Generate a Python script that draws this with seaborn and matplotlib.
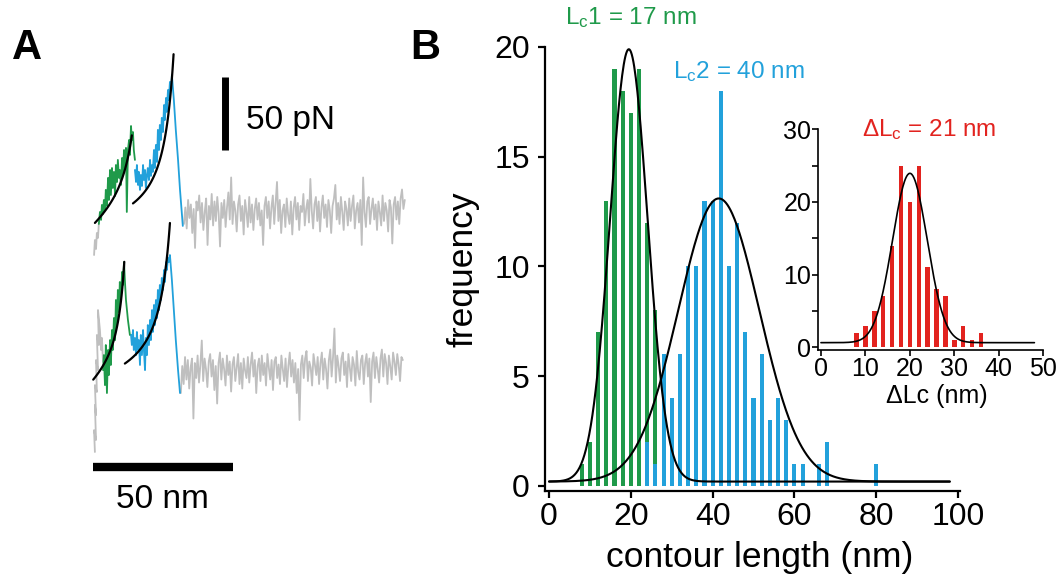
import numpy as np
import matplotlib
matplotlib.use("Agg")
import matplotlib.pyplot as plt
import seaborn as sns

#======================================================================
# --- 1. DADOS ---
#======================================================================
VERDE = "#1f9a4a"
AZUL = "#22a1db"
VERMELHO = "#e2231f"
CINZA = "#bfbfbf"

# --- Painel B: histograma principal (centros dos bins de 2 nm) ---
centros_lc1 = [8, 10, 12, 14, 16, 18, 20, 22, 24, 26]
contagem_lc1 = [1, 2, 7, 13, 19, 18, 17, 19, 12, 8]
centros_lc2 = list(range(24, 82, 2))
contagem_lc2 = [2, 1, 6, 4, 6, 10, 10, 13, 13, 18, 10, 12, 7, 4, 6,
                3, 4, 3, 1, 1, 0, 1, 2, 0, 0, 0, 0, 0, 1]

# --- Ajustes gaussianos (centro, sigma, amplitude, linha de base) ---
fit_lc1 = (19.5, 4.6, 19.7, 0.2)
fit_lc2 = (41.5, 9.9, 12.9, 0.2)
fit_dlc = (20.0, 3.9, 23.3, 0.64)

# --- Inset: delta Lc ---
centros_dlc = list(range(8, 38, 2))
contagem_dlc = [2, 3, 5, 7, 14, 25, 20, 25, 11, 8, 7, 1, 3, 1, 2]

# --- Painel A: curvas forca-extensao (nm, pN) ---
t1_pre_x = [0.4, 0.7, 1.1, 1.4, 1.8, 2.1]
t1_pre_f = [-26.7, -16.7, -22.7, -12.0, -15.3, -6.0]
t1_verde_x = [2.1, 2.5, 2.9, 3.2, 3.6, 3.9, 4.3, 4.6, 5.0, 5.4, 5.7, 6.1, 6.4,
              6.8, 7.1, 7.5, 7.9, 8.2, 8.6, 8.9, 9.3, 9.6, 10.0, 10.4, 10.7,
              11.1, 11.4, 11.8, 12.1, 12.5, 12.9, 13.2, 13.6, 13.9, 14.3,
              14.6, 15.0]
t1_verde_f = [-6, 2, -3.3, 6.7, 0.7, 10, 3.3, 16.7, 6, 24.7, 10, 30, 13.3,
              31.3, 18, 28.7, 12.7, 33.3, 22, 36.7, 24.7, 30, 20, 38, 26.7,
              43.3, 31.3, 44.7, 2, 43.3, 50, 40, 59.3, 50, 55.3, 43.3, 36.7]
t1_azul_x = [15.0, 15.4, 15.7, 16.1, 16.4, 16.8, 17.1, 17.5, 17.9, 18.2,
             18.6, 18.9, 19.3, 19.6, 20.0, 20.4, 20.7, 21.1, 21.4, 21.8,
             22.1, 22.5, 22.9, 23.2, 23.6, 23.9, 24.3, 24.6, 25.0, 25.4,
             25.7, 26.1, 26.4, 26.8, 27.1, 27.5, 27.9, 28.2, 28.9, 29.6,
             30.4, 31.1, 31.8, 32.1]
t1_azul_f = [30, 22, 33.3, 20, 28.7, 16.7, 26.7, 19.3, 33.3, 23.3, 30, 18,
             26.7, 31.3, 23.3, 36.7, 26, 33.3, 28.7, 43.3, 31.3, 46.7, 35.3,
             56.7, 43.3, 60, 50, 64.7, 55.3, 73.3, 63.3, 78, 68.7, 83.3, 76.7,
             88.7, 83.3, 93.3, 76.7, 56.7, 36.7, 16.7, 0, -7.3]
t1_cinza_f = [-6, 5, -9, 10, -2, 7, -12, 4, -22, 9, 3, 13, -5, 8, -10, 2, 11, -20, 6, -3,
              14, -7, 9, -4, 12, 1, -21, 8, -2, 10, -8, 5, 15, -3, 25, -6, 9, 3, -11, 7,
              13, -4, 6, -13, 10, 2, -8, 12, -5, 7, -10, 4, 11, -3, 8, -7, 3, -20, 6, 12,
              -2, 9, -9, 5, 13, -6, 8, 22, -4, 10, -12, 3, 7, -8, 11, 0, -6, 9, -13, 5,
              12, -3, 8, -10, 6, 2, 14, -7, 4, 10, -5, 24, 3, -9, 7, 12, -4, 9, -11, 5,
              13, -2, 7, -8, 10, 3, -12, 6, 11, 20, -3, 8, -6, 12, 2, -10, 9, 4, -7, 11,
              -4, 6, 13, -9, 3, 8, -5, 10, -20, 25, 2, -8, 9, 12, -6, 4, 11, -3, 7, -10,
              9, 2, -7, 13, -4, 8, 3, -11, 10, 5, -19, 7, 12, -3, 9, -6, 11, 17, 4, 10]

t2_pre_x = [0.7, 0.4, 1.1, 0.7, 1.1, 0.7, 1.4, 1.1, 1.8, 1.4, 2.1, 1.8, 2.5,
            2.9, 3.2, 3.6]
t2_pre_f = [-53.3, -38.7, -45.3, -22, -28.7, -8.7, -13.3, 8, 1.3, 24.7, 18,
            41.3, 28, 14.7, 22.7, 6.7]
t2_verde_x = [3.6, 3.9, 4.3, 4.6, 5.0, 5.4, 5.7, 6.1, 6.4, 6.8, 7.1, 7.5,
              7.9, 8.2, 8.6, 8.9, 9.3, 9.6, 10.0, 10.4, 10.7, 11.1, 11.4,
              11.8, 12.5, 13.2, 13.6]
t2_verde_f = [1.3, 11.3, -8.7, 18, -14, 14.7, -2, 21.3, 4.7, 28, 14.7, 36,
              21.3, 48, 31.3, 54.7, 40, 60, 48, 66.7, 58, 73.3, 61.3, 48,
              34.7, 24.7, 24.7]
t2_azul_x = [13.6, 13.9, 14.3, 14.6, 15.0, 15.4, 15.7, 16.1, 16.4, 16.8,
             17.1, 17.5, 17.9, 18.2, 18.6, 18.9, 19.3, 19.6, 20.0, 20.4,
             20.7, 21.1, 21.4, 21.8, 22.1, 22.5, 22.9, 23.2, 23.6, 23.9,
             24.3, 24.6, 25.0, 25.4, 25.7, 26.1, 26.4, 26.8, 27.1, 27.5,
             28.2, 28.9, 29.6, 30.4, 31.1]
t2_azul_f = [24.7, 18, 28, 14.7, 22.7, 11.3, 26.7, 14.7, 21.3, 4.7, 24.7,
             11.3, 28, 14.7, 1.3, 22.7, 11.3, 31.3, 18, 34.7, 21.3, 41.3,
             26.7, 44.7, 31.3, 48, 36, 54.7, 41.3, 58, 48, 62.7, 54.7, 68,
             60, 73.3, 68, 76, 73.3, 78, 61.3, 41.3, 21.3, 1.3, -14]
t2_cinza_f = [-14, 4, -8, 10, -5, 8, -11, 3, 9, -31, 6, -4, 11, -7, 5, 21, -6, 9, 2, -10,
              7, 12, -3, 8, -12, 4, -21, 6, 13, -5, 9, 2, -9, 11, -2, 7, -13, 5, 10, -6,
              3, 12, -8, 6, -11, 9, 1, -4, 10, -7, 5, 13, -3, 8, -14, 4, 9, -6, 11, -2,
              6, -9, 12, 3, -5, 8, -12, 7, 10, -4, 5, -8, 11, 2, -6, 9, -10, 4, 13, -3,
              8, -7, 6, -14, 2, -32, 5, 11, -4, 9, 14, -6, 7, 3, -9, 12, 5, -2, 10, -8,
              6, 13, -5, 9, 2, -11, 8, 15, -3, 10, 29, -7, 11, 4, -6, 9, 13, -2, 7, -10,
              12, 3, -6, 10, 5, -9, 14, 0, -5, 8, 11, -8, 6, 12, -3, 9, -20, 7, 13, -4,
              10, 2, -7, 9, 15, -3, 12, 6, -8, 11, 4, -5, 13, 7, -2, 12, 5, -6, 10, 8]

# --- Ajustes WLC (x0, Lc, escala de forca, linha de base, x inicial, x final) ---
wlc_t1 = [(0.7, 21.5, 28.6, -5.3, 0.7, 13.9), (0.7, 35.0, 16.1, -5.3, 14.3, 28.8)]
wlc_t2 = [(0.0, 16.0, 24.4, -5.3, 0.1, 11.2), (0.0, 35.0, 17.5, -5.3, 11.4, 27.5)]


def gauss(x, c, s, a, b):
    return b + a * np.exp(-0.5 * ((x - c) / s) ** 2)


def wlc(x, x0, lc, a, b):
    u = (x - x0) / lc
    return b + a * (0.25 / (1 - u) ** 2 - 0.25 + u)


#======================================================================
# --- 2. FIGURA ---
#======================================================================
sns.set_style("ticks")
plt.rcParams["font.family"] = ["Liberation Sans", "DejaVu Sans"]
plt.rcParams["mathtext.fontset"] = "custom"
plt.rcParams["mathtext.rm"] = "Liberation Sans"
plt.rcParams["mathtext.it"] = "Liberation Sans:italic"
plt.rcParams["mathtext.bf"] = "Liberation Sans:bold"
for k in ["text.color", "axes.labelcolor", "xtick.color", "ytick.color", "axes.edgecolor"]:
    plt.rcParams[k] = "black"

W, H = 1064, 581
fig = plt.figure(figsize=(W / 100, H / 100), dpi=100)

# --- Painel A ---
ax_a = fig.add_axes([0, 0, 430 / W, 1])
ax_a.set_xlim(-33.2, 120.4)
ax_a.set_ylim(-244, 143.3)
ax_a.axis("off")

offsets = [0, -104.7]
traces = [
    (t1_pre_x, t1_pre_f, t1_verde_x, t1_verde_f, t1_azul_x, t1_azul_f,
     np.linspace(32.5, 111.4, len(t1_cinza_f)), t1_cinza_f, wlc_t1),
    (t2_pre_x, t2_pre_f, t2_verde_x, t2_verde_f, t2_azul_x, t2_azul_f,
     np.linspace(31.4, 110.7, len(t2_cinza_f)), t2_cinza_f, wlc_t2),
]
for off, (px, pf, vx, vf, bx, bf, cx, cf, fits) in zip(offsets, traces):
    ax_a.plot(px, np.array(pf) + off, color=CINZA, lw=1.3)
    ax_a.plot(cx, np.array(cf) + off, color=CINZA, lw=1.3)
    ax_a.plot(vx, np.array(vf) + off, color=VERDE, lw=1.3)
    ax_a.plot(bx, np.array(bf) + off, color=AZUL, lw=1.3)
    for x0, lc, a, b, x_ini, x_fim in fits:
        xx = np.linspace(x_ini, x_fim, 100)
        ax_a.plot(xx, wlc(xx, x0, lc, a, b) + off, color="black", lw=1.6)

# barras de escala
ax_a.plot([47.1, 47.1], [43.3, 92.3], color="black", lw=5, solid_capstyle="butt")
ax_a.plot([0.1, 50.1], [-168.3, -168.3], color="black", lw=6, solid_capstyle="butt")
ax_a.text(54.6, 57.3, "50 pN", fontsize=24, ha="left", va="baseline")
ax_a.text(25, -195.3, "50 nm", fontsize=24, ha="center", va="baseline")

# --- Painel B: histograma principal ---
ax = fig.add_axes([545 / W, 90 / H, 415 / W, 444 / H])
sns.histplot(x=centros_lc1, weights=contagem_lc1, binwidth=2, binrange=(7, 27),
             shrink=0.5, color=VERDE, alpha=1, linewidth=0, ax=ax)
sns.histplot(x=centros_lc2, weights=contagem_lc2, binwidth=2, binrange=(23, 81),
             shrink=0.5, color=AZUL, alpha=1, linewidth=0, ax=ax)
xs = np.linspace(0, 98, 500)
sns.lineplot(x=xs, y=gauss(xs, *fit_lc1), color="black", lw=1.5, ax=ax)
sns.lineplot(x=xs, y=gauss(xs, *fit_lc2), color="black", lw=1.5, ax=ax)
ax.set_xlim(-1, 100.5)
ax.set_ylim(-0.23, 20)
ax.set_xticks([0, 20, 40, 60, 80, 100])
ax.set_yticks([0, 5, 10, 15, 20])
ax.set_xlabel("")
ax.set_ylabel("")
for s in ["top", "right"]:
    ax.spines[s].set_visible(False)
for s in ["left", "bottom"]:
    ax.spines[s].set_linewidth(1.6)
ax.tick_params(direction="out", length=5, width=1.6, labelsize=23)
ax.tick_params(axis="x", pad=3)
ax.tick_params(axis="y", pad=6)

# --- Inset: delta Lc ---
axi = fig.add_axes([818.3 / W, (H - 350) / H, 225 / W, 220.7 / H])
axi.patch.set_alpha(0)
sns.histplot(x=centros_dlc, weights=contagem_dlc, binwidth=2, binrange=(7, 37),
             shrink=0.5, color=VERMELHO, alpha=1, linewidth=0, ax=axi)
xi = np.linspace(0, 48, 400)
sns.lineplot(x=xi, y=gauss(xi, *fit_dlc), color="black", lw=1.2, ax=axi)
axi.set_xlim(-0.6, 50)
axi.set_ylim(-0.37, 30)
axi.set_xticks([0, 10, 20, 30, 40, 50])
axi.set_yticks([0, 10, 20, 30])
axi.set_yticks([5, 15, 25], minor=True)
axi.set_xlabel("")
axi.set_ylabel("")
for s in ["top", "right"]:
    axi.spines[s].set_visible(False)
for s in ["left", "bottom"]:
    axi.spines[s].set_linewidth(1.2)
axi.tick_params(which="both", direction="out", length=4, width=1.2, labelsize=18, pad=1)

# --- Textos ---
def ftxt(x, y, s, **kw):
    fig.text(x / W, 1 - y / H, s, ha="center", va="center", **kw)

ftxt(27, 48, "A", fontsize=30, fontweight="bold")
ftxt(425, 48, "B", fontsize=30, fontweight="bold")
ftxt(631, 18, r"L$_\mathrm{c}$1 = 17 nm", fontsize=17.5, color=VERDE)
ftxt(739, 72, r"L$_\mathrm{c}$2 = 40 nm", fontsize=17.5, color=AZUL)
ftxt(929, 130, r"ΔL$_\mathrm{c}$ = 21 nm", fontsize=17.5, color=VERMELHO)
ftxt(937, 396, "ΔLc (nm)", fontsize=18)
ftxt(463, 269, "frequency", fontsize=25.5, rotation=90)
ftxt(760, 558, "contour length (nm)", fontsize=25.5)

fig.savefig("out.png", dpi=100)
plt.close(fig)
